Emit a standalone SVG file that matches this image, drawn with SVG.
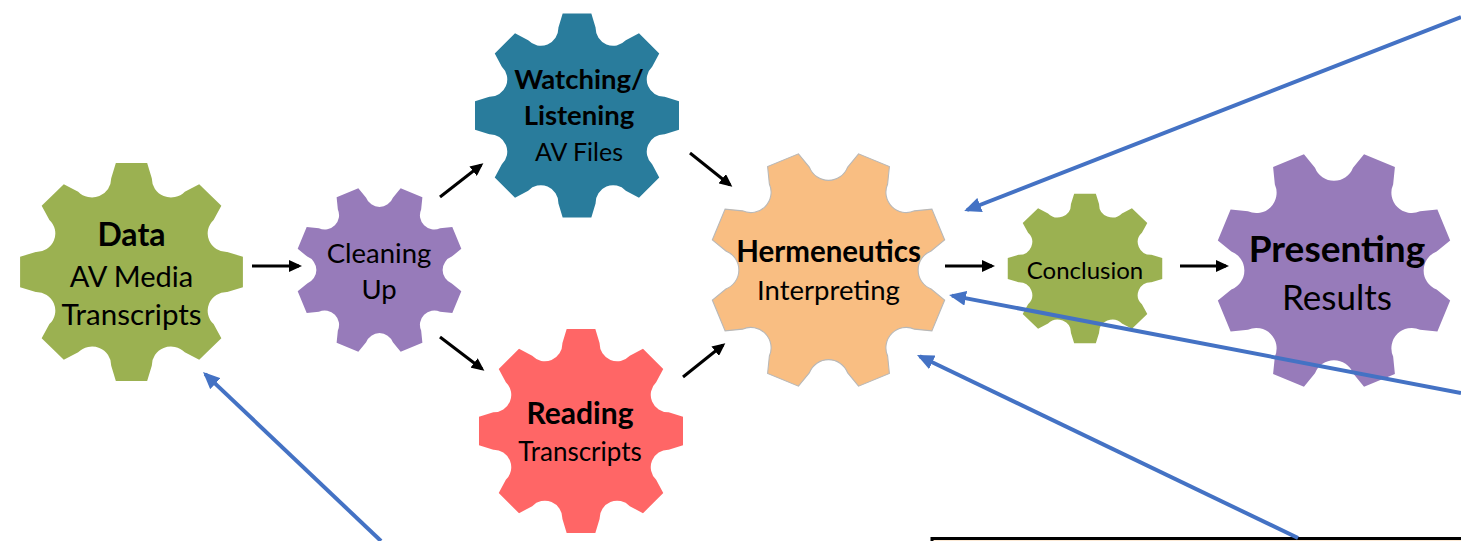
<svg xmlns="http://www.w3.org/2000/svg" width="1461" height="541" viewBox="0 0 1461 541">
<style>
  text { font-family: Lato, "Noto Sans", "Liberation Sans", sans-serif; fill: #000; text-anchor: middle; }
  .b { font-weight: bold; }
  .green { fill: #9BB151; }
  .purple { fill: #977BBA; }
  .teal { fill: #297C9C; }
  .red { fill: #FF6666; }
  .orange { fill: #F9BE82; stroke: #B8B8B8; stroke-width: 0.9; }
  .blk { stroke: #000; stroke-width: 3; fill: none; }
  .blu { stroke: #4472C4; stroke-width: 4; fill: none; }
</style>
<defs>
  <path id="gear" d="M -18.09,-85.10 L -13.92,-99.03 L 13.92,-99.03 L 18.09,-85.10 A 17 17 0 0 0 47.38,-72.97 L 60.18,-79.86 L 79.86,-60.18 L 72.97,-47.38 A 17 17 0 0 0 85.10,-18.09 L 99.03,-13.92 L 99.03,13.92 L 85.10,18.09 A 17 17 0 0 0 72.97,47.38 L 79.86,60.18 L 60.18,79.86 L 47.38,72.97 A 17 17 0 0 0 18.09,85.10 L 13.92,99.03 L -13.92,99.03 L -18.09,85.10 A 17 17 0 0 0 -47.38,72.97 L -60.18,79.86 L -79.86,60.18 L -72.97,47.38 A 17 17 0 0 0 -85.10,18.09 L -99.03,13.92 L -99.03,-13.92 L -85.10,-18.09 A 17 17 0 0 0 -72.97,-47.38 L -79.86,-60.18 L -60.18,-79.86 L -47.38,-72.97 A 17 17 0 0 0 -18.09,-85.10 Z"/>
  <marker id="ah" markerUnits="userSpaceOnUse" markerWidth="13" markerHeight="12" refX="10" refY="6" orient="auto">
    <path d="M0,0 L13,6 L0,12 Z" fill="#000"/>
  </marker>
  <marker id="bh" markerUnits="userSpaceOnUse" markerWidth="17" markerHeight="15" refX="14" refY="7.5" orient="auto">
    <path d="M0,0 L17,7.5 L0,15 Z" fill="#4472C4"/>
  </marker>
</defs>

<g id="node-data">
  <use href="#gear" class="green" transform="translate(131.5,272) scale(1.125,1.1)"/>
  <text class="b" x="131.5" y="246" font-size="32">Data</text>
  <text x="131.5" y="287" font-size="29">AV Media</text>
  <text x="131.5" y="325" font-size="29.5">Transcripts</text>
</g>

<g id="node-cleaning">
  <use href="#gear" class="purple" transform="translate(379.5,270) rotate(22.5) scale(0.845)"/>
  <text x="379" y="263" font-size="27.5">Cleaning</text>
  <text x="379" y="299" font-size="27.5">Up</text>
</g>

<g id="node-watching">
  <use href="#gear" class="teal" transform="translate(577,115.5) scale(1.03)"/>
  <text class="b" x="579" y="89" font-size="27.5">Watching/</text>
  <text class="b" x="579" y="125" font-size="27.5">Listening</text>
  <text x="579" y="161" font-size="25">AV Files</text>
</g>

<g id="node-reading">
  <use href="#gear" class="red" transform="translate(581,431) scale(1.03)"/>
  <text class="b" x="580" y="424" font-size="30">Reading</text>
  <text x="580" y="461" font-size="26">Transcripts</text>
</g>

<g id="node-hermeneutics">
  <use href="#gear" class="orange" transform="translate(828.5,270) rotate(22.5) scale(1.2)"/>
  <text class="b" x="828.5" y="262" font-size="29.5">Hermeneutics</text>
  <text x="828.5" y="300" font-size="27.5">Interpreting</text>
</g>

<g id="node-conclusion">
  <use href="#gear" class="green" transform="translate(1085,268.5) scale(0.78,0.755)"/>
  <text x="1085" y="279" font-size="24">Conclusion</text>
</g>

<g id="node-presenting">
  <use href="#gear" class="purple" transform="translate(1334,270.5) rotate(22.5) scale(1.2)"/>
  <text class="b" x="1337" y="262" font-size="37">Presenting</text>
  <text x="1337" y="310" font-size="35">Results</text>
</g>

<g id="node-box">
  <rect x="932" y="538.5" width="600" height="20" fill="#FCE9D4" stroke="#000" stroke-width="3"/>
</g>

<g id="connectors">
  <line class="blk" x1="252" y1="266" x2="299" y2="266" marker-end="url(#ah)"/>
  <line class="blk" x1="440" y1="197" x2="481" y2="165" marker-end="url(#ah)"/>
  <line class="blk" x1="440" y1="337" x2="482" y2="369" marker-end="url(#ah)"/>
  <line class="blk" x1="690" y1="153" x2="730" y2="185" marker-end="url(#ah)"/>
  <line class="blk" x1="683" y1="377" x2="723" y2="345" marker-end="url(#ah)"/>
  <line class="blk" x1="945" y1="266" x2="992" y2="266" marker-end="url(#ah)"/>
  <line class="blk" x1="1180" y1="266" x2="1226" y2="266" marker-end="url(#ah)"/>
  <line class="blu" x1="1461" y1="17" x2="967" y2="210" marker-end="url(#bh)"/>
  <line class="blu" x1="1461" y1="393" x2="952" y2="295.6" marker-end="url(#bh)"/>
  <line class="blu" x1="1298" y1="538" x2="919.7" y2="356.3" marker-end="url(#bh)"/>
  <line class="blu" x1="381" y1="541" x2="205.2" y2="374.1" marker-end="url(#bh)"/>
</g>
</svg>
